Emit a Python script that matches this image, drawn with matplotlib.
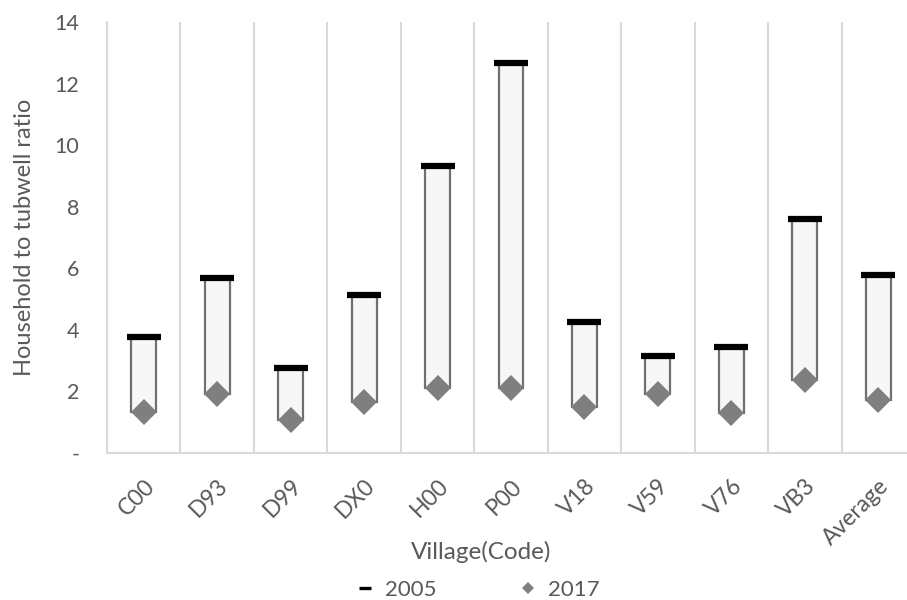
import matplotlib.pyplot as plt
import numpy as np

plt.rcParams['font.family'] = ['Lato', 'DejaVu Sans']

villages = ['C00', 'D93', 'D99', 'DX0', 'H00', 'P00', 'V18', 'V59', 'V76', 'VB3', 'Average']
ratio_2005 = [3.77, 5.68, 2.76, 5.13, 9.32, 12.66, 4.25, 3.15, 3.44, 7.60, 5.78]
ratio_2017 = [1.33, 1.92, 1.07, 1.66, 2.11, 2.11, 1.49, 1.92, 1.30, 2.37, 1.72]

grey_txt = '#595959'
grid_col = '#d9d9d9'

fig = plt.figure(figsize=(9.07, 6.0), dpi=100)
ax = fig.add_axes([107 / 907, 1 - 453 / 600, 808 / 907, 431 / 600])

x = np.arange(len(villages))
hi = np.array(ratio_2005)
lo = np.array(ratio_2017)

# up/down bars between the two years
ax.bar(x, hi - lo, bottom=lo, width=0.34, color='#f7f7f7',
       edgecolor='#707070', linewidth=1.6, zorder=2)
ax.plot(x, hi, linestyle='none', marker='_', markersize=24, markeredgewidth=4.5,
        color='black', label='2005', zorder=3)
ax.plot(x, lo, linestyle='none', marker='D', markersize=13.5, color='#7f7f7f',
        markeredgewidth=0, label='2017', zorder=4)

ax.set_xlim(-0.5, len(villages) - 0.5)
ax.set_ylim(0, 14)
ax.set_yticks(np.arange(0, 15, 2))
ax.set_yticklabels(['-'] + [str(v) for v in range(2, 15, 2)])
ax.set_xticks(x)
ax.set_xticklabels(villages, rotation=45, ha='right', rotation_mode='anchor')
ax.set_xticks(np.arange(0.5, len(villages), 1), minor=True)
ax.grid(axis='x', which='minor', color=grid_col, linewidth=1.5)
ax.tick_params(axis='both', which='both', length=0, colors=grey_txt)
ax.tick_params(axis='y', labelsize=15.5, pad=20)
ax.tick_params(axis='x', labelsize=16.5, pad=16)

for side in ['top', 'right']:
    ax.spines[side].set_visible(False)
for side in ['left', 'bottom']:
    ax.spines[side].set_color(grid_col)
    ax.spines[side].set_linewidth(1.5)

ax.set_xlabel('Village(Code)', fontsize=17.5, color=grey_txt)
ax.xaxis.set_label_coords(0.463, -0.205)
ax.set_ylabel('Household to tubwell ratio', fontsize=17, color=grey_txt)
ax.yaxis.set_label_coords(-0.089, 0.5)

leg = fig.legend(loc='center', bbox_to_anchor=(0.527, 0.017), ncol=2, frameon=False,
                 fontsize=16, labelcolor=grey_txt, columnspacing=3.75,
                 handlelength=0.8, handletextpad=0.5)
dash, diamond = leg.legend_handles
dash.set_markersize(9)
dash.set_markeredgewidth(2.4)
diamond.set_markersize(6)

fig.savefig('out.png', dpi=100)
